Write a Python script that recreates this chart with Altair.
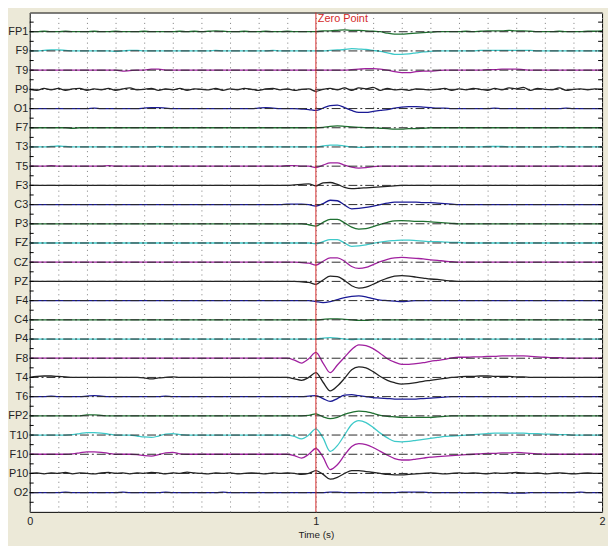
import altair as alt
import pandas as pd

FONT = "Liberation Sans, Arial, sans-serif"

# ---------------- data ----------------
time_s = [0.0, 0.025, 0.05, 0.075, 0.1, 0.125, 0.15, 0.175, 0.2, 0.225,
          0.25, 0.275, 0.3, 0.325, 0.35, 0.375, 0.4, 0.425, 0.45, 0.475,
          0.5, 0.525, 0.55, 0.575, 0.6, 0.625, 0.65, 0.675, 0.7, 0.725,
          0.75, 0.775, 0.8, 0.825, 0.85, 0.875, 0.9, 0.925, 0.95, 0.975,
          1.0, 1.025, 1.05, 1.075, 1.1, 1.125, 1.15, 1.175, 1.2, 1.225,
          1.25, 1.275, 1.3, 1.325, 1.35, 1.375, 1.4, 1.425, 1.45, 1.475,
          1.5, 1.525, 1.55, 1.575, 1.6, 1.625, 1.65, 1.675, 1.7, 1.725,
          1.75, 1.775, 1.8, 1.825, 1.85, 1.875, 1.9, 1.925, 1.95, 1.975, 2.0]

channels = ["FP1", "F9", "T9", "P9", "O1", "F7", "T3", "T5", "F3", "C3",
            "P3", "FZ", "CZ", "PZ", "F4", "C4", "P4", "F8", "T4", "T6",
            "FP2", "T10", "F10", "P10", "O2"]

channel_colors = ["#1f6f30", "#3ec9c9", "#a0209f", "#222222", "#1a1a95"] * 5

# amplitudes (arbitrary units, positive = up)
fp1 = [0,0,0.5,0,0,0.5,0,0,0,0.5, 0,0,0.5,0,0,0,0.5,0,0,0,
       0,0.5,0,0.5,0,0.5,1,0.5,0,0, 0.5,0,0,0.5,0,0,0.5,0,0,0,
       0,1,1,1.5,2,1.5,1.5,1,0.5,0, -1.5,-2.5,-2.5,-2,-1.5,-1,-0.5,0,0,0,
       0,0.5,0,0.5,1,1,1,1.5,1,1, 0.5,0,0,0,0.5,0,0,0,0.5,0.5,1]
f9 = [0,0,0.5,1,1,0.5,0,0,0,0, 0,0,-0.5,0,0.5,0.5,0,0,0,0,
      0,0,0,0,0,0,0.5,0,0,0, 0,0,0,0,0.5,0,0,0,0,0,
      0,0,0.5,1,1.5,2.5,2,1.5,0.5,-0.5, -2,-3.5,-3.5,-3,-2,-1,-0.5,0,0,0,
      0,0,0,0.5,0.5,0.5,0.5,0.5,0.5,0.5, 0.5,0,0,0,0,0,0,0,0,0,0]
t9 = [0,0,0,0,0,0,0,0,0,0, 0,0,0,-1,-0.5,0,0,1,1,0,
      0,0,0,0,0,0,0,0,0,0, 0,0,0,0,0,0,0,0,0,0,
      0,0,0,0,0,0.5,1,1.5,1.5,1, 0,-1.5,-2.5,-2.5,-1.5,-1,-1,-0.5,0,0,
      0,0,0,0,0.5,0.5,1,1,1,0.5, 0,0,0,0,0,0,0,0,0,0,0]
p9 = [0,-1,1,-0.5,1,-1,0.5,1,-1,0.5, -0.5,1,-1,0.5,1.5,-0.5,0,1,-1,0.5,
      -0.5,1,-1,0.5,0,-0.5,1,-1,0.5,-0.5, 1,0,-1,0.5,1,-0.5,0.5,-1,0,0.5,
      -2,0,1,-0.5,1.5,-1,1.5,0.5,2,-1, 1,-0.5,0,-1,0.5,0,-0.5,0,1,-1,
      0.5,-0.5,1,0,-1,1,-0.5,1.5,0.5,2, -1,1,0,-0.5,1.5,-1,0,0.5,-0.5,0.5,0]
o1 = [0,0,0,0,0,0,0,0,0,0.5, 0,0,0,0,0,0,0.5,1,1,0.5,
      0,0,0,0,0,0,0,0,0,0, 0,0,0.5,1,0.5,0,0,0,-0.5,-1,
      -2,0.5,3,3.5,1,-2,-4,-4,-3,-2, -1,0.5,1.5,2,2,1.5,1,0.5,0.5,0,
      0,0,0,0,0,0.5,0,0,0,0, 0,0,0,0,0,0.5,0,0,0,0,0]
f7 = [0,0,0,0,0,0,-0.5,0,0,0, 0,0,0,0,0,0,0,0,0,0,
      0,0,0,0,0,0,0,0,0,0, 0,0,0,0,0,0,0,0,0,0,
      0,0.5,1.5,2,1.5,1,0.5,0,0,-0.5, -1,-1.5,-1.5,-1,-1,-0.5,0,0,0,0,
      0,0,0,0,0,0,0,0,0,0, 0,0,0,0,0,0,0,0,0,0,0]
t3 = [0,0,0,0.5,1,0.5,0,0,0,0, 0,0,0,0,0,0,0,0,0.5,0,
      0,0,0,0,0,0,0,0,0,0, 0,0,0,0,0,0,0,0,0,0,
      0,1,2,2,1,0,-0.5,-0.5,0,0, 0,0,0,0,0,0,0,0,0,0,
      0,0,0,0,0.5,0.5,0.5,0,0,0, 0,0,0,0,0.5,0,0,0,0,0,0]
t5 = [0,0,0,0.5,0,0,0,0,0,0, 0,0.5,0,0,0,0,0,0,0,0,
      0,0,0,0,0,0,0,0,0,0, 0,0,0,0,0,0,0.5,0.5,0,0,
      -1.5,1,3.5,3.5,1,-1,-2,-1.5,-0.5,0, 0,0,0,0,0,0,0,0,0,0,
      0,0,0,0,0,0,0,0,0,0, 0,0,0,0,0,0,0,0,0,0,0]
f3 = [0,0,0,0,0,0,0,0,0,0, 0,0,0,0,0,0,0,0,0,0,
      0,0,0,0,0,0,0,0,0,0, 0,0,0,0,0,0,0,0.5,1,1.5,
      -0.5,2.5,3,1,-2,-3.3,-3,-2.5,-2,-1.5, -1,-0.5,0,0,0,0,0,0,0,0,
      0,0,0,0,0,0,0,0,0,0, 0,0,0,0,0,0,0,0,0,0,0]
c3 = [0,0,0,0,0,0,0,0,0,0, 0,0,0,0,0,0,0,0,0,0,
      0,0,0,0,0,0,0,0,0,0, 0,0,0,0,0,0,0.5,0.5,0.5,0,
      -1.5,1,4.5,4,-0.5,-4.5,-4,-3,-1.5,0, 1.5,2.5,2.5,2.5,2.5,2,2,1.5,1,0.5,
      0,0,0,0,0,0,0,0,0,0, 0,0,0,0,0,0,0,0,0,0,0]
p3 = [0,0,0,0,0,0,0,0,0,0, 0,0,0,0,0,0,0,0,0,0,
      0,0,0,0,0,0,0,0,0,0, 0,0,0,0,0,0,0,0,0,-1,
      -2.5,1.5,4.5,4.5,1,-3.5,-5.5,-5,-3,-0.5, 1.5,3,3.3,3,2.5,2.5,2,1.5,1,0.5,
      0,0,0,0,0,0,0,0,0,0, 0,0,0,0,0,0,0,0,0,0,0]
fz = [0,0,0,0,0,0,0,0,0,0, 0,0,0,0,0,0,0,0,0,0,
      0,0,0,0,0,0,0,0,0,0, 0,0,0,0,0,0,0,0,0,0,
      -1,1.5,3.5,3.5,0,-3.5,-3,-2,-0.5,1, 2,2.5,3,3,2.5,2,1.5,1.5,1,0.5,
      0.5,0,0,0,0,0,0,0,0,0, 0,0,0,0,0,0,0,0,0,0,0]
cz = [0,0,0,0,0,0,0,0,0,0, 0,0,0,0,0,0,0,0,0,0,
      0,0,0,0,0,0,0,0,0,0, 0,0,0,0,0,0,0,0,-0.5,-1,
      -3,1,4.5,4.5,1,-4.5,-6.5,-5.5,-2.5,0.5, 3,4.5,5,4.5,4,3.5,2.5,2,1,0.5,
      0,0,0,0,0,0,0,0,0,0, 0,0,0,0,0,0,0,0,0,0,0]
pz = [0,0,0,0,0,0,0,0,0,0, 0,0,0,0,0,0,0,0,0,0,
      0,0,0,0,0,0,0,0,0,0, 0,0,0,0,0,0,0,0,-0.5,-1,
      -3,1.5,5.5,5,1,-4.5,-7,-6,-3,0.5, 3.5,5.5,6,5.5,4.5,3.5,2.5,2,1,0.5,
      0,0,0,0,0,0,0,0,0,0, 0,0,0,0,0,0,0,0,0,0,0]
f4 = [0,0,0,0,0,0,0,0,0,0, 0,0,0,0,0,0,0,0,0,0,
      0,0,0,0,0,0,0,0,0,0, 0,0,0,0,0,0,0,0,0,0,
      -1,-2,-1,1,3,4.5,5,4,2,0.5, 0,-0.5,-1,-0.5,0,0,0,0,0,0,
      0,0,0,0,0,0,0,0,0,0, 0,0,0,0,0,0,0,0,0,0,0]
c4 = [0,0,0,0,0,0,0,0,0,0, 0,0,0,0,0,0,0,0,0,0,
      0,0,0,0,0,0,0,0,0,0, 0,0,0,0,0,0,0,0,0,0,
      0,0.5,1,1,0.5,0,-0.5,-0.5,0,0, 0,0,0,0,0,0,0,0,0,0,
      0,0,0,0,0,0,0,0,0,0, 0,0,0,0,0,0,0,0,0,0,0]
p4 = [0,0,0,0,0,0,0,0,0,0, 0,0,0,0,0,0,0,0,0,0,
      0,0,0,0,0,0,0,0,0,0, 0,0,0,0,0,0,0,0,0,0,
      0,1,1.5,1,0,-0.5,0,0,0,0, 0,0,0,0,0,0,0,0,0,0,
      0,0,0,0,0,0,0,0,0,0, 0,0,0,0,0,0,0,0,0,0,0]
f8 = [0,0,0,0,0,0,0,0,0,0, 0,0,0,0,0,0,0,0,0,0,
      0,0,0,0,0,0,0,0,0,0, 0,0,0,0,0,0,0,-2,-5,-0.5,
      6,-5,-15,-7,1,9,14,13,10,5, -0.5,-4,-6.3,-6.5,-5.7,-4.7,-3.3,-2.3,-1.3,0.3,
      1,1,1.5,1.5,2,2,2.5,2.5,2.5,2.5, 2,1.5,1,0.5,0.5,0,0,0,0,0,0]
t4 = [0,1,1.5,1.5,1,0.5,0,0,0,0, 0,0,0,0,0,0,-0.5,-1.5,-0.5,0,
      0.5,0,0,0,0,0,0,0,0,0, 0,0,0,0,0,0,0,-1.5,-3,0,
      5,-5,-14,-9,-1,8,11,10,6,1, -3,-5.5,-7,-6.5,-5.5,-4,-3,-2,-1,0,
      0.5,1,1,1.5,1.5,1,1,1,0.5,0.5, 0,0,0,0,0,0,0,0,0,0,0]
t6 = [0,0,0,0.5,0,0,0,0,0.5,1, 0.5,0,0,0,0,0,0,0,0,0.5,
      0,0,0,0,0,0,0,0,0,0, 0,0,0,0,0,0,0,0,0,0.5,
      1,-2,-5,-2,1.5,2,1,0,-1,-1.5, -2,-2.5,-2.7,-2.7,-2.5,-2,-1.5,-1,-0.5,0,
      0,0,0,0,0,0,0,0,0,0, 0,0,0,0,0,0,0,0,0,0,0]
fp2 = [0,0,0,0,0,0,0,0,1,1, 0.5,0,0,0,0,0,0,0,0,0,
       0,0,0,0,0,0,0,0,0,0, 0,0,0,0,0,0,0,0,0,0.5,
       2,-1,-3,-1.5,1.5,3.5,5,4.5,2.5,0.5, -0.5,-1,-1.5,-1.5,-1.5,-1.5,-1.5,-1,-0.5,0,
       0,0,0,0,0,0,0,0,0,0, 0,0,0,0,0,0,0,0,0,0,0]
t10 = [0,0,0,0,0,0,0.5,1.5,2.5,2.5, 2,1,0,0,0,-1,-2,-2.5,-1,1,
       1.5,0.5,0,0,0,0,0,0,0,0, 0,0,0,0,0,0,0,-1.5,-4,0,
       6.5,-3,-17,-11,0,11,15,13,8,2, -3,-6.5,-7,-6.5,-5.5,-4.5,-3.5,-2.5,-1.5,-1,
       -0.5,0,0.5,1,1.5,2,2,2,2,2, 1.5,1.5,1,1,0.5,0.5,0,0,0,0,0]
f10 = [0,0,0,0,0,0,0.5,1.5,2.5,2.5, 2,1,0,0,0,-0.5,-1.5,-2,-0.5,1.5,
       2,0.5,0,0,0,0,0,0,0,0, 0,0,0,0,0,0,0,-1.5,-4,0,
       6,-3,-16,-11,-1,8,11,10,7,3, -1,-4.5,-6,-6,-5,-4,-3,-2.5,-2,-1.5,
       -1,-0.5,0,0.5,1,1,1.5,1.5,2,1.5, 1,0.5,0,0,0,0,0,0,0,0,0]
p10 = [0,0.5,-0.5,0.5,0,1,-0.5,0.5,0,-0.5, 0.5,1,0,0.5,-0.5,0.5,0,1,0.5,-0.5,
       0.5,0,1.5,0.5,0,-0.5,0.5,0,0.5,-0.5, 0,0.5,0,-0.5,0.5,0,0.5,0,-1,0,
       3,-1,-6,-4,0,3,3,2,1,0, -1,-1.5,-1.5,-1,-0.5,0,0.5,0,-0.5,0,
       0.5,0,0.5,0,-0.5,0.5,0,0.5,1,0.5, 0,0.5,-0.5,0,0.5,0,-0.5,0,0.5,0,0]
o2 = [0,0,0,0,0,0.5,0,0,0,0, 0,0,0,0.5,0,0,0,0,0,0.5,
      0,0,0,0,0,0,0,0.5,0,0, 0,0,0,0,0,0,0,0,0,0,
      0,0,0.5,0.5,0,0,0,0,0,0, 0,0,0.5,0.5,0.5,0.5,0,0,0,0,
      0,0,0,0,0,0,0,-0.5,-0.5,-0.5, 0,0,0,0,0,0,0,0.5,0,0,0]

traces = [fp1, f9, t9, p9, o1, f7, t3, t5, f3, c3, p3, fz, cz, pz, f4,
          c4, p4, f8, t4, t6, fp2, t10, f10, p10, o2]

zero_point = [1.0]
grid_t = [0, 0.1, 0.2, 0.3, 0.4, 0.5, 0.6, 0.7, 0.8, 0.9, 1, 1.1, 1.2, 1.3,
          1.4, 1.5, 1.6, 1.7, 1.8, 1.9, 2]

# ---------------- tables ----------------
GAIN = 1 / 20.0
n = len(channels)
rows, base_rows = [], []
for i, (name, vals) in enumerate(zip(channels, traces)):
    off = n - i
    base_rows.append({"channel": name, "offset": off})
    for t, v in zip(time_s, vals):
        rows.append({"time": t, "channel": name, "y": off + v * GAIN})
df = pd.DataFrame(rows)
base_df = pd.DataFrame(base_rows)
tick_df = pd.DataFrame({"pos": [k * 0.5 for k in range(1, 2 * n + 2)]})
zp_df = pd.DataFrame({"t": zero_point, "label": ["Zero Point"]})

W, H = 580, 506
xs = alt.Scale(domain=[0, 2], nice=False, zero=False)
ys = alt.Scale(domain=[0, n + 1], nice=False, zero=False)

names_bottom_up = list(reversed(channels))
label_expr = "[" + ",".join("'%s'" % c for c in names_bottom_up) + "][datum.value - 1]"

x_axis = alt.Axis(values=grid_t, grid=True, gridDash=[1, 4], gridColor="#7a7a7a",
                  gridOpacity=1, gridWidth=1, ticks=False, domain=False,
                  labelExpr="datum.value % 1 == 0 ? format(datum.value, 'd') : ''",
                  labelFont=FONT, labelFontSize=11, labelColor="#222",
                  labelPadding=4, labelFlush=False, labelOverlap=False,
                  title="Time (s)", titleFont=FONT, titleFontSize=10,
                  titleFontWeight="normal", titleColor="#222", titlePadding=3)
y_axis = alt.Axis(values=list(range(1, n + 1)), labelExpr=label_expr,
                  ticks=False, domain=False, grid=False, labelFont=FONT,
                  labelFontSize=11, labelColor="#222", labelPadding=2,
                  labelOverlap=False, labelFlush=False, title="")

lines = alt.Chart(df).mark_line(strokeWidth=1.3, interpolate="monotone").encode(
    x=alt.X("time:Q", scale=xs, axis=x_axis),
    y=alt.Y("y:Q", scale=ys, axis=y_axis),
    color=alt.Color("channel:N", scale=alt.Scale(domain=channels, range=channel_colors),
                    legend=None),
    detail="channel:N",
)

baselines = alt.Chart(base_df).mark_rule(
    color="#2a2a2a", strokeWidth=1, strokeDash=[9, 3, 2, 3]
).encode(
    y=alt.Y("offset:Q", scale=ys, axis=y_axis),
    x=alt.value(0), x2=alt.value(W),
)

left_ticks = alt.Chart(tick_df).mark_rule(color="#000").encode(
    y=alt.Y("pos:Q", scale=ys, axis=y_axis), x=alt.value(0), x2=alt.value(4))
right_ticks = alt.Chart(tick_df).mark_rule(color="#000").encode(
    y=alt.Y("pos:Q", scale=ys, axis=y_axis), x=alt.value(W - 4), x2=alt.value(W))

zline = alt.Chart(zp_df).mark_rule(color="#d42a2a", strokeWidth=1).encode(
    x=alt.X("t:Q", scale=xs, axis=x_axis))
ztext = alt.Chart(zp_df).mark_text(
    color="#d42a2a", align="left", baseline="top", dx=2, dy=1, font=FONT, fontSize=11
).encode(x=alt.X("t:Q", scale=xs, axis=x_axis), y=alt.value(0), text="label:N")

chart = alt.layer(lines, baselines, left_ticks, right_ticks, zline, ztext).properties(
    width=W, height=H,
    autosize=alt.AutoSizeParams(type="none"),
    padding={"left": 22, "top": 1, "right": 6, "bottom": 31},
    background="#ECE9D8",
).configure_view(stroke="#000", strokeWidth=1, fill="white")

chart.save("out.html", embed_options={"renderer": "svg", "actions": False})
